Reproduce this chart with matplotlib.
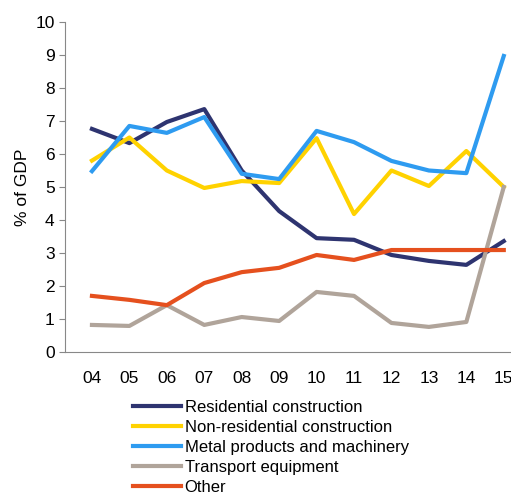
import matplotlib
matplotlib.use("Agg")
import matplotlib.pyplot as plt
plt.rcParams['font.family'] = ['Liberation Sans', 'DejaVu Sans']

years = ["04","05","06","07","08","09","10","11","12","13","14","15"]
residential = [6.76,6.33,6.97,7.36,5.5,4.27,3.45,3.4,2.94,2.76,2.64,3.36]
nonres = [5.8,6.5,5.5,4.97,5.18,5.12,6.48,4.18,5.5,5.03,6.09,5.0]
metal = [5.48,6.85,6.64,7.12,5.4,5.24,6.7,6.36,5.79,5.5,5.42,8.97]
transport = [0.82,0.79,1.42,0.82,1.06,0.94,1.82,1.7,0.88,0.76,0.91,5.0]
other = [1.7,1.58,1.42,2.09,2.42,2.55,2.94,2.79,3.09,3.09,3.09,3.09]

series = [("Residential construction", residential, "#2E3470"),
          ("Non-residential construction", nonres, "#FFD200"),
          ("Metal products and machinery", metal, "#2E9BF0"),
          ("Transport equipment", transport, "#B0A49A"),
          ("Other", other, "#E5501E")]

W, H = 511, 492
fig = plt.figure(figsize=(W/100, H/100), dpi=100)
ax = fig.add_axes([65/W, 1-352/H, 450/W, 330/H])
x = list(range(len(years)))
for name, vals, c in series:
    ax.plot(x, vals, color=c, lw=3, label=name, clip_on=False)
ax.set_xlim(-0.72, 11.3)
ax.set_ylim(0, 10)
ax.set_yticks(range(11))
ax.set_xticks(x)
ax.set_xticklabels(years)
ax.tick_params(labelsize=12.5, length=4, color="#888888")
ax.tick_params(axis="x", length=0, pad=14)
for s in ["top", "right"]:
    ax.spines[s].set_visible(False)
for s in ["left", "bottom"]:
    ax.spines[s].set_color("#888888")
ax.set_ylabel("% of GDP", fontsize=12.5)
ax.legend(loc="upper left", bbox_to_anchor=(133/W, 1-400/H), bbox_transform=fig.transFigure,
          frameon=False, fontsize=12, handlelength=2.9, labelspacing=0.3,
          borderaxespad=0, borderpad=0, handletextpad=0.2)
fig.savefig("out.png", dpi=100)
